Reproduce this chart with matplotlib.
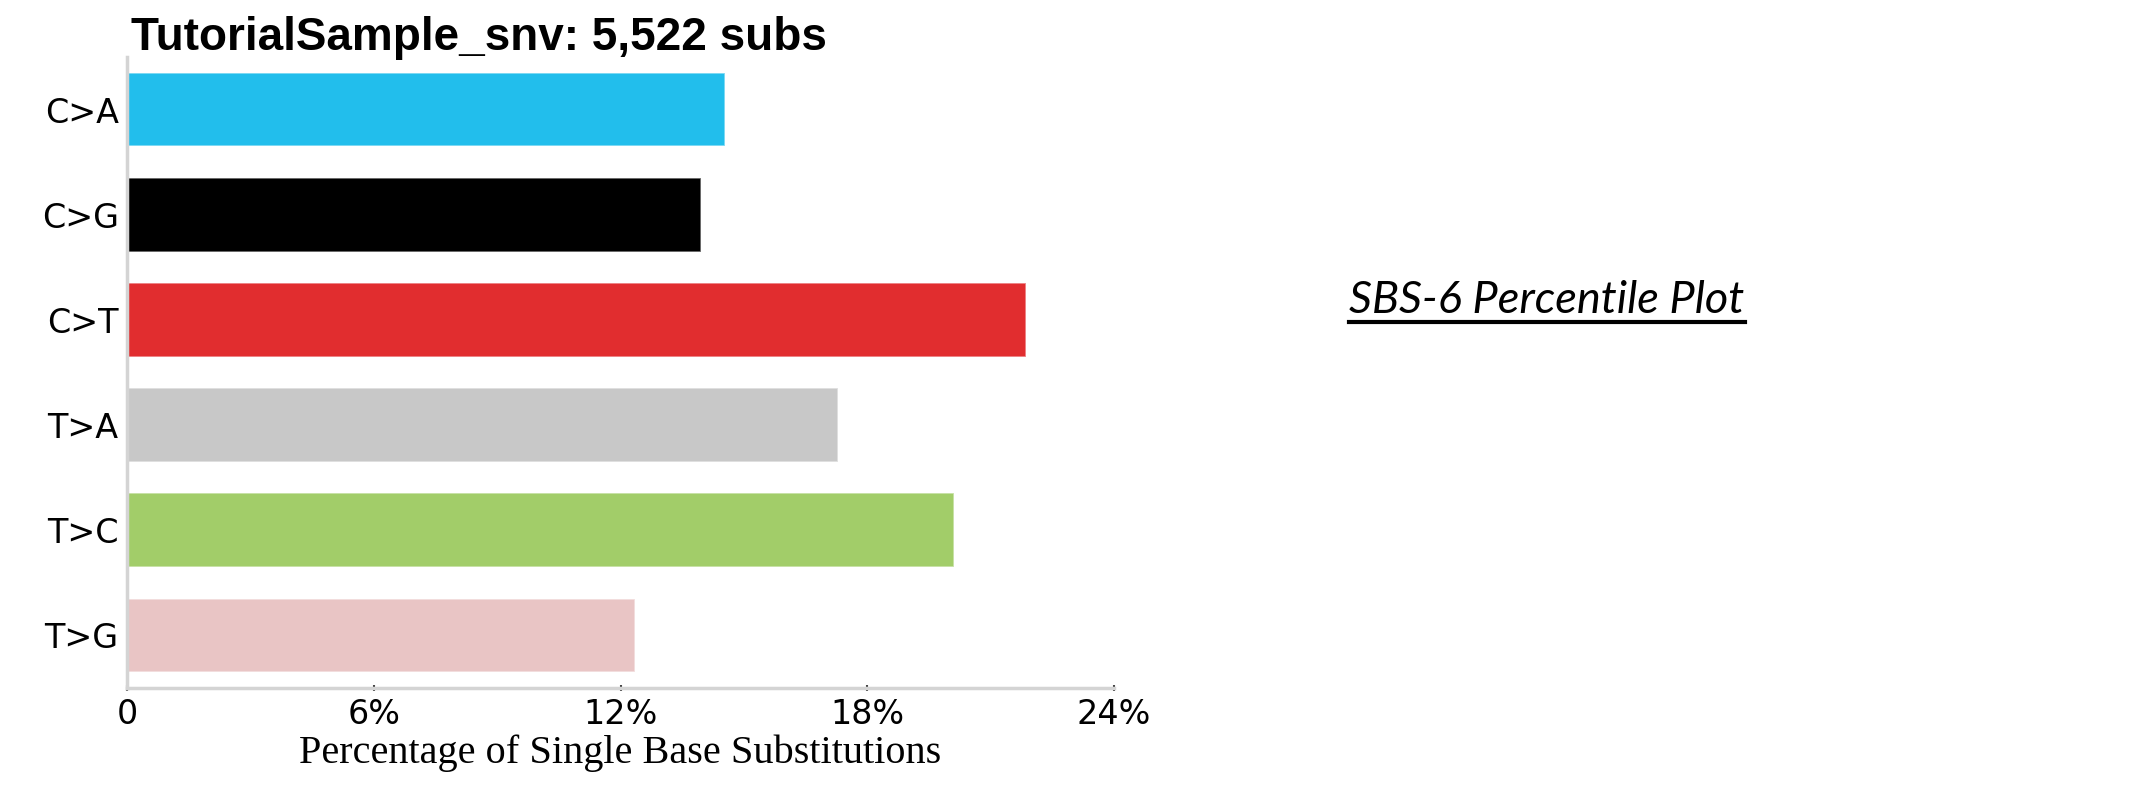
import matplotlib
matplotlib.use('Agg')
import matplotlib.pyplot as plt
from matplotlib.ticker import FuncFormatter
from matplotlib.lines import Line2D

sample_name = 'TutorialSample_snv'
total_subs = 5522
mutation_types = ['C>A', 'C>G', 'C>T', 'T>A', 'T>C', 'T>G']
percentages = [14.55, 13.95, 21.85, 17.3, 20.1, 12.35]
bar_colors = ['#22BEEC', '#000000', '#E12D2F', '#C8C8C8', '#A2CD69', '#E9C5C5']
x_ticks = [0, 6, 12, 18, 24]

W, H = 2138, 788
fig = plt.figure(figsize=(W / 100, H / 100), dpi=100)
ax = fig.add_axes([127 / W, 1 - 688 / H, (1114 - 127) / W, (688 - 57) / H])

ypos = list(range(len(mutation_types)))
ax.barh(ypos, percentages, height=0.7, color=bar_colors,
        edgecolor=(1, 1, 1, 0.5), linewidth=1.2)
ax.set_ylim(len(mutation_types) - 0.5, -0.5)
ax.set_xlim(0, 24)
ax.set_yticks(ypos)
ax.set_yticklabels(mutation_types, fontsize=24, family='DejaVu Sans')
ax.set_xticks(x_ticks)
ax.xaxis.set_major_formatter(FuncFormatter(lambda v, p: '0' if v == 0 else '%d%%' % v))
for lbl in ax.get_xticklabels():
    lbl.set_fontsize(24)
ax.tick_params(axis='y', length=0, pad=6)
ax.tick_params(axis='x', direction='inout', length=5, width=1.5, color='#444444', pad=5)

for side in ['top', 'right']:
    ax.spines[side].set_visible(False)
for side in ['left', 'bottom']:
    ax.spines[side].set_color('#d4d4d4')
    ax.spines[side].set_linewidth(2.5)

ax.set_xlabel('Percentage of Single Base Substitutions', family='Liberation Serif',
              fontsize=29, labelpad=2)

fig.text(131 / W, 1 - 50 / H, '%s: %s subs' % (sample_name, format(total_subs, ',')),
         family='Liberation Sans', weight='bold', fontsize=33, va='baseline')

base_y = 1 - 313 / H
note = fig.text(1547 / W, base_y, 'SBS-6 Percentile Plot', family='Lato',
                style='italic', fontsize=32.5, ha='center', va='baseline')

# underline the note
fig.canvas.draw()
bb = note.get_window_extent(fig.canvas.get_renderer())
uy = base_y - 9 / H
fig.add_artist(Line2D([bb.x0 / W, bb.x1 / W], [uy, uy], color='black',
                      linewidth=3, transform=fig.transFigure))

fig.savefig('out.png', dpi=100)
